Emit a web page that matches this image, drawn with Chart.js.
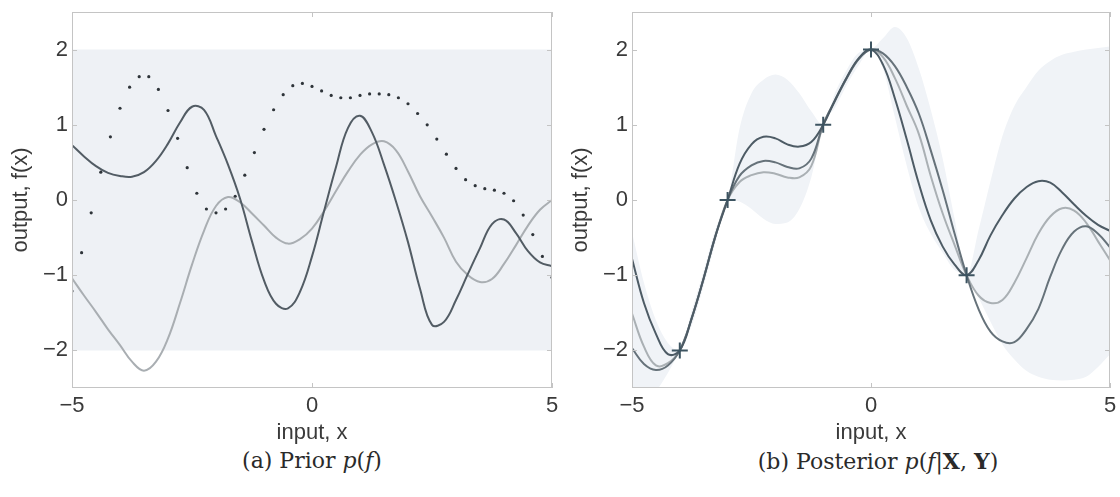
<!DOCTYPE html>
<html>
<head>
<meta charset="utf-8">
<script src="https://cdn.jsdelivr.net/npm/chart.js@4/dist/chart.umd.min.js"></script>
<style>
  html, body { margin: 0; padding: 0; background: #ffffff; }
  #wrap { position: relative; width: 1120px; height: 497px; overflow: hidden; background: #fff; }
  canvas { position: absolute; top: 0; }
  .cap { position: absolute; top: 448px; width: 560px; text-align: center; white-space: nowrap;
         font-family: "DejaVu Serif", "Liberation Serif", serif; font-size: 22px; color: #2a2a2a; }
  .cap i { font-style: italic; }
  .cap b { font-weight: bold; }
</style>
</head>
<body>
<div id="wrap">
  <canvas id="prior" width="560" height="447" style="left:0"></canvas>
  <canvas id="posterior" width="560" height="447" style="left:560px"></canvas>
  <div class="cap" style="left:32px">(a) Prior <i>p</i>(<i>f</i>)</div>
  <div class="cap" style="left:598px">(b) Posterior <i>p</i>(<i>f</i>|<b>X</b>, <b>Y</b>)</div>
</div>
<script>
// ---- axis ticks ----
const xTicks = [-5, 0, 5];
const xTickLabels = ['\u22125', '0', '5'];
const yTicks = [-2, -1, 0, 1, 2];
const yTickLabels = ['\u22122', '\u22121', '0', '1', '2'];

// ---- sample grid for the smooth functions ----
const xGrid = [-5, -4.75, -4.5, -4.25, -4, -3.75, -3.5, -3.25, -3, -2.75, -2.5, -2.25, -2, -1.75, -1.5, -1.25,
  -1, -0.75, -0.5, -0.25, 0, 0.25, 0.5, 0.75, 1, 1.25, 1.5, 1.75, 2, 2.25, 2.5, 2.75, 3, 3.25, 3.5, 3.75,
  4, 4.25, 4.5, 4.75, 5];

// ---- (a) prior: two solid samples, one dotted sample, +/- 2 sd band ----
const priorDark = [0.73, 0.58, 0.45, 0.36, 0.32, 0.31, 0.37, 0.52, 0.75, 1.03, 1.24, 1.2, 0.85, 0.47, 0.02, -0.55,
  -1.07, -1.38, -1.44, -1.22, -0.75, -0.15, 0.44, 0.96, 1.12, 0.9, 0.47, -0.02, -0.56, -1.18, -1.66, -1.62,
  -1.33, -0.98, -0.64, -0.32, -0.26, -0.44, -0.68, -0.83, -0.88];
const priorLight = [-1.04, -1.27, -1.49, -1.72, -1.93, -2.15, -2.27, -2.15, -1.84, -1.37, -0.86, -0.41, -0.08, 0.04,
  -0.03, -0.18, -0.34, -0.5, -0.58, -0.52, -0.38, -0.15, 0.12, 0.38, 0.6, 0.74, 0.78, 0.66, 0.38, 0.05, -0.22,
  -0.5, -0.82, -1.0, -1.09, -1.05, -0.85, -0.6, -0.34, -0.13, 0.0];
const dotX = [-5, -4.8, -4.6, -4.4, -4.2, -4, -3.8, -3.6, -3.4, -3.2, -3, -2.8, -2.6, -2.4, -2.2, -2, -1.8, -1.6,
  -1.4, -1.2, -1, -0.8, -0.6, -0.4, -0.2, 0, 0.2, 0.4, 0.6, 0.8, 1, 1.2, 1.4, 1.6, 1.8, 2, 2.2, 2.4, 2.6, 2.8,
  3, 3.2, 3.4, 3.6, 3.8, 4, 4.2, 4.4, 4.6, 4.8, 5];
const priorDotted = [-1.21, -0.7, -0.17, 0.37, 0.84, 1.22, 1.5, 1.64, 1.64, 1.47, 1.19, 0.82, 0.43, 0.09, -0.12,
  -0.17, -0.12, 0.05, 0.33, 0.63, 0.94, 1.2, 1.4, 1.52, 1.55, 1.51, 1.45, 1.39, 1.36, 1.36, 1.39, 1.41, 1.41,
  1.4, 1.36, 1.28, 1.15, 1.0, 0.81, 0.61, 0.42, 0.27, 0.19, 0.15, 0.13, 0.09, -0.01, -0.2, -0.46, -0.75, -1.03];
const priorBandX = [-5, 5];
const priorBandUpper = [2, 2];
const priorBandLower = [-2, -2];

// ---- (b) posterior: observations, three samples, +/- 2 sd band ----
const obsX = [-4, -3, -1, 0, 2];
const obsY = [-2, 0, 1, 2, -1];
const postA = [-0.78, -1.37, -1.78, -2.05, -2.0, -1.57, -1.04, -0.47, 0.0, 0.48, 0.74, 0.84, 0.82, 0.74, 0.71, 0.77,
  1.0, 1.33, 1.64, 1.89, 2.0, 1.8, 1.35, 0.8, 0.22, -0.27, -0.62, -0.86, -1.0, -0.8, -0.47, -0.2, 0.02, 0.17,
  0.25, 0.23, 0.1, -0.06, -0.21, -0.33, -0.41];
const postB = [-1.97, -2.18, -2.26, -2.2, -2.0, -1.57, -1.04, -0.47, 0.0, 0.32, 0.46, 0.52, 0.5, 0.44, 0.42, 0.55,
  1.0, 1.33, 1.63, 1.88, 2.0, 1.95, 1.78, 1.5, 1.15, 0.66, 0.13, -0.45, -1.0, -1.45, -1.75, -1.88, -1.89, -1.72,
  -1.45, -1.02, -0.65, -0.42, -0.35, -0.45, -0.63];
const postC = [-1.51, -1.95, -2.2, -2.17, -2.0, -1.57, -1.04, -0.47, 0.0, 0.24, 0.33, 0.37, 0.35, 0.3, 0.3, 0.45,
  1.0, 1.32, 1.63, 1.88, 2.0, 1.9, 1.62, 1.25, 0.88, 0.32, -0.18, -0.6, -1.0, -1.27, -1.37, -1.33, -1.1, -0.78,
  -0.45, -0.22, -0.11, -0.14, -0.3, -0.55, -0.8];
const postBandUpper = [-0.43, -1.1, -1.6, -1.9, -2.0, -1.47, -0.94, -0.38, 0.0, 0.95, 1.42, 1.6, 1.67, 1.6, 1.42,
  1.18, 1.0, 1.43, 1.74, 1.96, 2.0, 2.15, 2.3, 2.15, 1.75, 1.2, 0.55, -0.25, -1.0, -0.4, 0.25, 0.85, 1.25, 1.5,
  1.72, 1.85, 1.93, 1.97, 2.0, 2.02, 2.04];
const postBandLower = [-2.9, -2.75, -2.55, -2.3, -2.0, -1.67, -1.14, -0.56, 0.0, -0.02, -0.12, -0.25, -0.32, -0.3,
  -0.12, 0.3, 1.0, 1.23, 1.54, 1.8, 2.0, 1.75, 1.1, 0.45, -0.1, -0.45, -0.7, -0.93, -1.0, -1.3, -1.62, -1.92,
  -2.12, -2.27, -2.35, -2.39, -2.4, -2.39, -2.35, -2.22, -2.05];

const pts = (xs, ys) => xs.map((x, i) => ({ x: x, y: ys[i] }));

const TICK_FONT = { family: '"Liberation Sans", Arial, sans-serif', size: 22 };
const TEXT = '#3a3a3a';
const BOX = '#c4c4c4';

// box around the plotting area with short inward tick marks
const frame = {
  id: 'frame',
  afterDatasetsDraw(chart) {
    const { ctx, chartArea: a, scales } = chart;
    ctx.save();
    ctx.strokeStyle = BOX;
    ctx.lineWidth = 1;
    ctx.strokeRect(Math.round(a.left) + 0.5, Math.round(a.top) + 0.5,
                   Math.round(a.width) - 1, Math.round(a.height) - 1);
    ctx.beginPath();
    xTicks.forEach(v => {
      const px = Math.round(scales.x.getPixelForValue(v)) + 0.5;
      ctx.moveTo(px, a.bottom); ctx.lineTo(px, a.bottom - 5);
      ctx.moveTo(px, a.top); ctx.lineTo(px, a.top + 5);
    });
    yTicks.forEach(v => {
      const py = Math.round(scales.y.getPixelForValue(v)) + 0.5;
      ctx.moveTo(a.left, py); ctx.lineTo(a.left + 5, py);
      ctx.moveTo(a.right, py); ctx.lineTo(a.right - 5, py);
    });
    ctx.stroke();
    ctx.restore();
  }
};

function scalesFor() {
  return {
    x: {
      type: 'linear', min: -5, max: 5,
      afterBuildTicks: s => { s.ticks = xTicks.map(v => ({ value: v })); },
      afterFit: s => { s.height = 59; s.paddingLeft = 0; s.paddingRight = 0; },
      grid: { display: false, drawTicks: false },
      border: { display: false },
      ticks: { font: TICK_FONT, color: TEXT, padding: 5, maxRotation: 0,
               callback: (v) => xTickLabels[xTicks.indexOf(v)] },
      title: { display: true, text: 'input, x', font: TICK_FONT, color: TEXT, padding: { top: 0, bottom: 1 } }
    },
    y: {
      type: 'linear', min: -2.5, max: 2.5,
      afterBuildTicks: s => { s.ticks = yTicks.map(v => ({ value: v })); },
      afterFit: s => { s.width = 72; s.paddingTop = 0; s.paddingBottom = 0; },
      grid: { display: false, drawTicks: false },
      border: { display: false },
      ticks: { font: TICK_FONT, color: TEXT, padding: 4,
               callback: (v) => yTickLabels[yTicks.indexOf(v)] },
      title: { display: true, text: 'output, f(x)', font: TICK_FONT, color: TEXT, padding: { top: 8, bottom: 0 } }
    }
  };
}

function baseOptions() {
  return {
    responsive: false,
    animation: false,
    devicePixelRatio: 1,
    layout: { padding: { top: 12, right: 8, left: 0, bottom: 0 } },
    plugins: { legend: { display: false }, tooltip: { enabled: false } },
    scales: scalesFor()
  };
}

function curve(xs, ys, color, order) {
  return { data: pts(xs, ys), borderColor: color, borderWidth: 2, pointRadius: 0,
           tension: 0.4, fill: false, order: order };
}

// (a) prior
new Chart(document.getElementById('prior'), {
  type: 'line',
  data: {
    datasets: [
      { data: pts(dotX, priorDotted), showLine: false, pointRadius: 1.6, pointBorderWidth: 0,
        pointBackgroundColor: '#2e3439', order: 0 },
      curve(xGrid, priorDark, '#525c64', 1),
      curve(xGrid, priorLight, '#a9aeb2', 2),
      { data: pts(priorBandX, priorBandUpper), borderWidth: 0, pointRadius: 0,
        backgroundColor: '#eef1f5', fill: '+1', order: 10 },
      { data: pts(priorBandX, priorBandLower), borderWidth: 0, pointRadius: 0, fill: false, order: 11 }
    ]
  },
  options: baseOptions(),
  plugins: [frame]
});

// (b) posterior
new Chart(document.getElementById('posterior'), {
  type: 'line',
  data: {
    datasets: [
      { data: pts(obsX, obsY), showLine: false, pointStyle: 'cross', pointRadius: 8,
        pointBorderWidth: 2, pointBorderColor: '#3d5461', order: 0 },
      curve(xGrid, postA, '#4d5b65', 1),
      curve(xGrid, postB, '#66727a', 2),
      curve(xGrid, postC, '#aab0b4', 3),
      { data: pts(xGrid, postBandUpper), borderWidth: 0, pointRadius: 0, cubicInterpolationMode: 'monotone',
        backgroundColor: '#f0f3f7', fill: '+1', order: 10 },
      { data: pts(xGrid, postBandLower), borderWidth: 0, pointRadius: 0, cubicInterpolationMode: 'monotone',
        fill: false, order: 11 }
    ]
  },
  options: baseOptions(),
  plugins: [frame]
});
</script>
</body>
</html>
